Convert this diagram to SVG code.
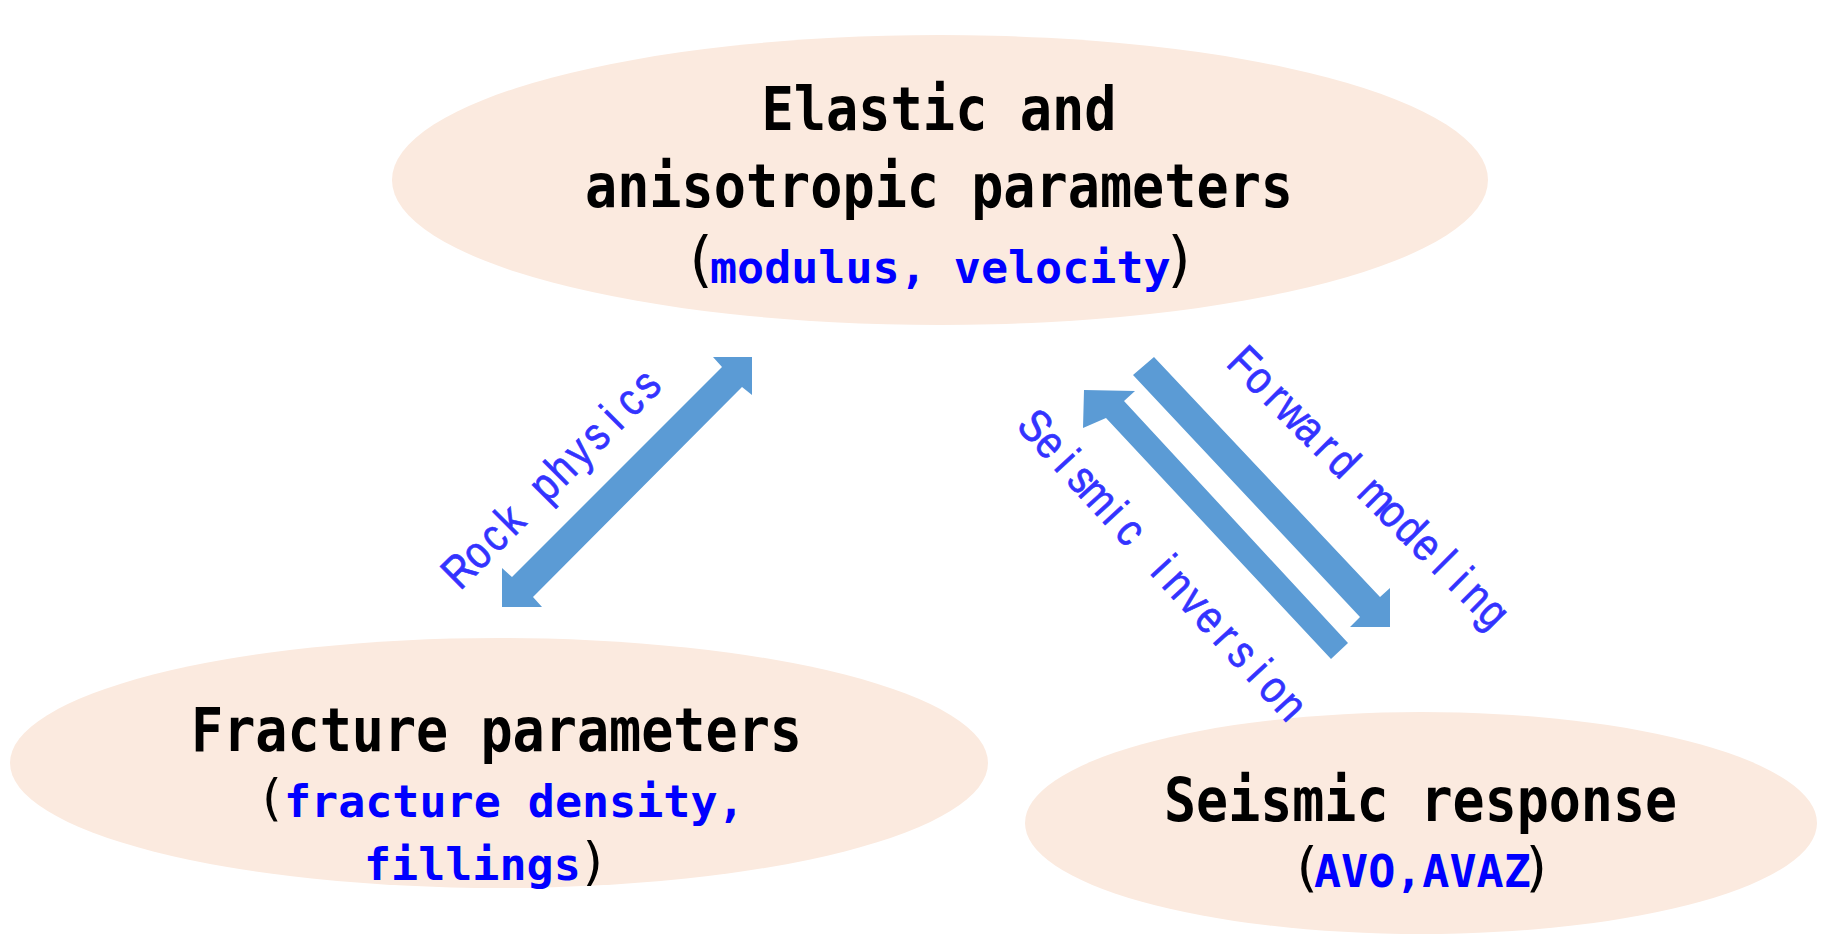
<svg xmlns="http://www.w3.org/2000/svg" width="1824" height="935" viewBox="0 0 1824 935">
<style>
.ell{fill:#FBEADF;stroke:none}
.blk{font-family:"DejaVu Sans Mono","Liberation Mono",monospace;font-weight:bold;font-size:60px;fill:#000}
.sub{font-family:"DejaVu Sans Mono","Liberation Mono",monospace}
.blu{font-weight:bold;font-size:45px;fill:#0000FF}
.par{font-weight:normal;fill:#000}
.arr{fill:#5B9BD5;stroke:none}
.lab{font-family:"Liberation Sans",Arial,sans-serif;font-size:46px;fill:#3333FF;stroke:#3333FF;stroke-width:0.7px;text-anchor:middle}
</style>
<rect width="1824" height="935" fill="#fff"/>
<g id="node-elastic">
<ellipse class="ell" cx="940" cy="180" rx="548" ry="145"/>
<text class="blk" x="939" y="130" text-anchor="middle" textLength="355" lengthAdjust="spacingAndGlyphs">Elastic and</text>
<text class="blk" x="939" y="207" text-anchor="middle" textLength="708" lengthAdjust="spacingAndGlyphs">anisotropic parameters</text>
<text class="sub" y="283"><tspan class="par" x="682" y="280" font-size="60">(</tspan><tspan class="blu" x="710" y="283">modulus, velocity</tspan><tspan class="par" x="1162" y="280" font-size="60">)</tspan></text>
</g>
<g id="node-fracture">
<ellipse class="ell" cx="499" cy="763" rx="489" ry="125"/>
<text class="blk" x="496.5" y="751" text-anchor="middle" textLength="611" lengthAdjust="spacingAndGlyphs">Fracture parameters</text>
<text class="sub" y="817"><tspan class="par" x="256" y="815" font-size="50">(</tspan><tspan class="blu" x="284" y="817">fracture density,</tspan></text>
<text class="sub" y="880"><tspan class="blu" x="364" y="880">fillings</tspan><tspan class="par" x="578" y="879" font-size="52">)</tspan></text>
</g>
<g id="node-seismic">
<ellipse class="ell" cx="1421" cy="823" rx="396" ry="111"/>
<text class="blk" x="1420.5" y="821" text-anchor="middle" textLength="513" lengthAdjust="spacingAndGlyphs">Seismic response</text>
<text class="sub" y="887"><tspan class="par" x="1290" y="886" font-size="54">(</tspan><tspan class="blu" x="1314" y="887">AVO,AVAZ</tspan><tspan class="par" x="1521" y="886" font-size="54">)</tspan></text>
</g>
<g id="connectors">
<polygon id="edge-rock" class="arr" points="752,357 752,395 742,387 533,597 542,607 502,607 502,568 512,577 722,367 713,357"/>
<polygon id="edge-forward" class="arr" points="1133,375 1154,357 1380,597 1390,588 1390,627 1350,627 1360,617"/>
<polygon id="edge-inversion" class="arr" points="1084,390 1135,391 1124,401 1348,643 1331,659 1106,418 1083,428"/>
<g transform="translate(553.5,478) rotate(-45)">
<text class="lab" transform="scale(0.85,1)" y="14" x="-155.3 -127.1 -98.8 -70.6 -42.4 -14.1 14.1 42.4 70.6 98.8 127.1 155.3">Rock physics</text>
</g>
<g transform="translate(1162.2,566.7) rotate(47.5)">
<text class="lab" transform="scale(0.85,1)" y="14" x="-223.1 -195.2 -167.3 -139.4 -111.5 -83.6 -55.8 -27.9 0 27.9 55.8 83.6 111.5 139.4 167.3 195.2 223.1">Seismic inversion</text>
</g>
<g transform="translate(1368.2,488.3) rotate(45)">
<text class="lab" transform="scale(0.85,1)" y="14" x="-208.2 -180.4 -152.7 -124.9 -97.2 -69.4 -41.6 -13.9 13.9 41.6 69.4 97.2 124.9 152.7 180.4 208.2">Forward modeling</text>
</g>
</g>
</svg>
